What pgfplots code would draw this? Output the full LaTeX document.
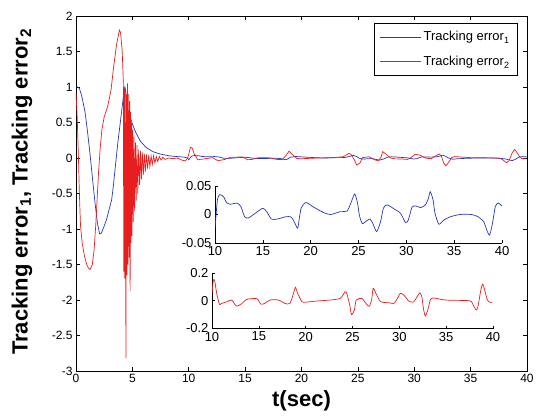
\documentclass[border=0pt]{standalone}
\usepackage{pgfplots}
\pgfplotsset{compat=1.18}
\usepackage{pgfplotstable}
\usepackage{fontspec}
\setmainfont{Liberation Sans}
\definecolor{eblue}{RGB}{35,55,185}
\definecolor{ered}{RGB}{232,30,30}

\pgfplotstableread{
t v
0 1.0
0.15 1.0
0.3 0.98
0.5 0.88
0.8 0.65
1.0 0.4
1.25 0.05
1.5 -0.35
1.7 -0.65
1.9 -0.92
2.1 -1.07
2.25 -1.06
2.45 -0.98
2.7 -0.87
3.16 -0.59
3.3 -0.41
3.7 0.2
4.2 0.86
4.34 1.0
4.4 0.95
4.5 0.75
4.6 0.62
4.8 0.58
5.0 0.48
5.3 0.36
5.7 0.24
6.2 0.15
6.8 0.09
7.5 0.055
8.3 0.03
9.0 0.02
9.6 0.012
9.9 0.0
10 -0.024
10.25 0.025
10.5 0.035
10.9 0.031
11.2 0.021
11.6 0.018
12.3 0.020
12.7 0.014
13.1 -0.004
13.5 -0.006
14.2 0.002
15.0 0.011
15.4 0.005
15.9 -0.008
16.5 -0.008
17.4 -0.004
17.9 -0.004
18.2 -0.010
18.6 -0.024
18.7 -0.020
19.0 0.011
19.5 0.021
20.3 0.013
21.4 0.003
22.1 0.000
23.1 0.005
23.8 0.006
24.2 0.020
24.6 0.036
24.9 0.020
25.1 -0.002
25.4 -0.016
25.7 -0.013
26.2 -0.008
26.5 -0.016
26.9 -0.030
27.3 -0.013
27.6 0.011
28.0 0.017
28.7 0.010
29.4 0.002
29.9 -0.014
30.2 -0.010
30.6 0.013
31.0 0.015
31.5 0.012
32.0 0.017
32.3 0.028
32.5 0.040
32.8 0.025
33.0 0.002
33.4 -0.017
33.9 -0.010
34.6 -0.004
35.6 0.000
36.8 0.000
37.5 -0.004
38.1 -0.013
38.4 -0.027
38.7 -0.036
39.0 -0.016
39.3 0.014
39.6 0.020
40.0 0.015
}\blue

\pgfplotstableread{
t v
0 0.92
0.1 0.6
0.2 0.1
0.3 -0.5
0.4 -0.95
0.55 -1.2
0.75 -1.38
0.95 -1.5
1.1 -1.55
1.25 -1.57
1.45 -1.5
1.6 -1.3
1.75 -0.95
1.85 -0.65
2.0 -0.2
2.15 0.15
2.3 0.4
2.5 0.58
2.8 0.72
3.1 0.95
3.35 1.3
3.6 1.6
3.85 1.8
3.95 1.77
4.1 1.5
4.2 1.05
4.24 -1.6
4.28 1.0
4.32 -1.7
4.36 0.95
4.43 -2.82
4.47 0.9
4.52 -1.65
4.57 1.05
4.62 -1.5
4.67 0.9
4.72 -1.4
4.76 0.8
4.80 -1.88
4.84 0.65
4.88 -1.2
4.92 0.5
4.97 -1.1
5.02 0.4
5.08 -0.9
5.14 0.3
5.20 -0.75
5.27 0.22
5.34 -0.6
5.41 0.18
5.48 -0.5
5.56 0.12
5.64 -0.38
5.72 0.1
5.80 -0.3
5.88 0.08
5.97 -0.24
6.06 0.06
6.15 -0.19
6.25 0.05
6.35 -0.15
6.45 0.04
6.55 -0.12
6.66 0.03
6.77 -0.09
6.88 0.03
7.0 -0.07
7.12 0.02
7.25 -0.05
7.4 0.02
7.55 -0.03
7.7 0.01
7.9 -0.02
8.2 0.0
8.6 -0.01
9.0 0.0
9.4 -0.03
9.7 -0.04
9.9 0.0
10.0 0.053
10.15 0.15
10.3 0.14
10.5 0.053
10.8 -0.026
11.0 -0.02
11.6 -0.007
12.1 0.005
12.6 -0.038
13.2 -0.02
13.7 0.01
14.8 0.015
15.2 -0.024
15.6 -0.02
16.2 0.005
17.1 0.005
17.8 -0.02
18.3 -0.02
18.6 0.03
18.9 0.097
19.1 0.06
19.6 -0.007
20.0 -0.01
21.2 -0.002
22.6 0.005
23.7 0.017
24.2 0.065
24.4 0.05
24.7 -0.03
24.9 -0.10
25.2 -0.067
25.4 0.005
26.0 0.017
26.5 -0.025
26.8 -0.04
27.05 0.01
27.2 0.09
27.45 0.06
27.9 0.0
28.3 -0.012
28.9 -0.014
29.4 -0.02
29.7 0.005
30.1 0.053
30.5 0.04
31.0 -0.002
31.5 -0.01
31.9 0.03
32.2 0.057
32.4 0.03
32.6 -0.067
32.8 -0.11
33.1 -0.05
33.3 0.005
33.6 0.02
35.0 0.005
37.5 0.0
37.8 -0.02
38.2 -0.067
38.4 -0.04
38.7 0.077
38.9 0.12
39.1 0.08
39.4 0.005
39.6 -0.01
39.9 -0.012
}\red

\pgfplotsset{
  common/.style={
    scale only axis,
    tick align=inside,
    scaled ticks=false,
    axis line style={black, line width=0.8pt},
    tick style={black, line width=0.6pt},
    /pgf/number format/assume math mode=true,
  },
}

\begin{document}
\begin{tikzpicture}
\useasboundingbox (0,0) rectangle (536pt,416pt);
% main axis
\begin{axis}[common,
  at={(76pt,45pt)}, anchor=south west,
  width=451pt, height=355pt,
  xmin=0, xmax=40, ymin=-3, ymax=2,
  xtick={0,5,...,40},
  ytick={-3,-2.5,-2,-1.5,-1,-0.5,0,0.5,1,1.5,2},
  yticklabels={-3,-2.5,-2,-1.5,-1,-0.5,0,0.5,1,1.5,2},
  major tick length=4pt,
  ticklabel style={font=\fontsize{12}{14}\selectfont},
  xlabel={\fontsize{22}{25}\selectfont\bfseries t(sec)},
  ylabel={\fontsize{22}{25}\selectfont\bfseries Tracking error\textsubscript{1}, Tracking error\textsubscript{2}},
  xlabel style={at={(axis description cs:0.5,-0.085)}, anchor=center},
  ylabel style={at={(axis description cs:-0.12,0.505)}, anchor=center},
  legend style={at={(0.98,0.98)}, anchor=north east, draw=black, line width=0.7pt,
    font=\fontsize{13}{15}\selectfont, inner xsep=6pt, inner ysep=6pt, row sep=10pt},
  legend cell align=left,
  legend image code/.code={\draw[#1] (0pt,0pt) -- (41pt,0pt);},
]
\addplot[eblue, line width=0.7pt] table[x=t,y=v] {\blue};
\addlegendentry{Tracking error\textsubscript{1}}
\addplot[ered, line width=0.7pt] table[x=t,y=v] {\red};
\addlegendentry{Tracking error\textsubscript{2}}
\end{axis}
% inset 1
\begin{axis}[common,
  at={(215pt,173pt)}, anchor=south west,
  width=287pt, height=57pt,
  axis x line*=bottom, axis y line*=left,
  xmin=10, xmax=40, ymin=-0.05, ymax=0.05,
  xtick={10,15,...,40},
  ytick={-0.05,0,0.05}, yticklabels={-0.05,0,0.05},
  major tick length=3pt,
  ticklabel style={font=\fontsize{13}{15}\selectfont},
]
\addplot[eblue, line width=0.7pt, smooth, tension=0.4, restrict x to domain=10:40] table[x=t,y=v] {\blue};
\end{axis}
% inset 2
\begin{axis}[common,
  at={(212pt,87.5pt)}, anchor=south west,
  width=281pt, height=55.5pt,
  axis x line*=bottom, axis y line*=left,
  xmin=10, xmax=40, ymin=-0.2, ymax=0.2,
  xtick={10,15,...,40},
  ytick={-0.2,0,0.2}, yticklabels={-0.2,0,0.2},
  major tick length=3pt,
  ticklabel style={font=\fontsize{13}{15}\selectfont},
]
\addplot[ered, line width=0.7pt, smooth, tension=0.4, restrict x to domain=10:40] table[x=t,y=v] {\red};
\end{axis}
\end{tikzpicture}
\end{document}
